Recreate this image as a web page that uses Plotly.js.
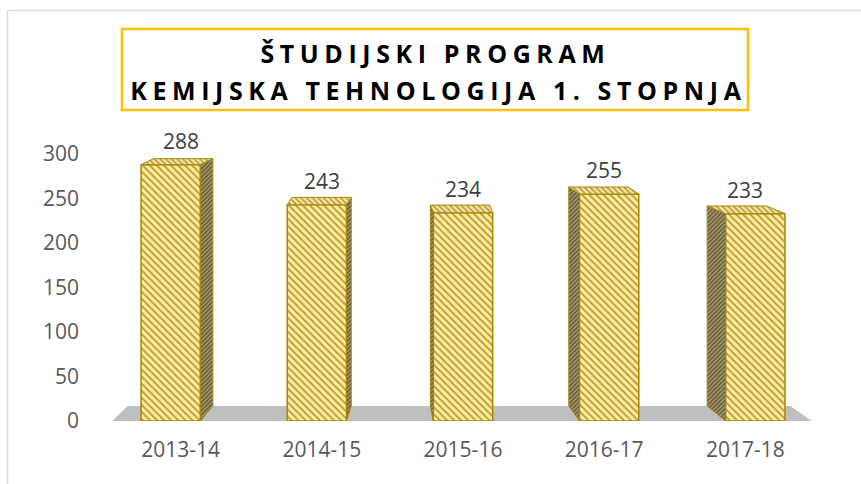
<!DOCTYPE html>
<html>
<head>
<meta charset="utf-8">
<script src="https://cdn.plot.ly/plotly-3.0.1.min.js"></script>
<style>
  html, body { margin: 0; padding: 0; background: #ffffff; }
  #chart { width: 861px; height: 484px; }
  g.annotation[data-index="0"] text, g.annotation[data-index="1"] text { letter-spacing: 5.6px; }
</style>
</head>
<body>
<div id="chart"></div>
<script>
// ---- data ----
const categories = ["2013-14", "2014-15", "2015-16", "2016-17", "2017-18"];
const values = [288, 243, 234, 255, 233];
const titleLines = ["ŠTUDIJSKI PROGRAM", "KEMIJSKA TEHNOLOGIJA 1. STOPNJA"];
const yTicks = [0, 50, 100, 150, 200, 250, 300];

// ---- layout geometry ----
const W = 861, H = 484;
const M = { l: 110, r: 45, t: 154, b: 63 };
const PW = W - M.l - M.r, PH = H - M.t - M.b;
const px2paperX = p => (p - M.l) / PW;
const px2paperY = p => (H - M.b - p) / PH;

const idx = categories.map((c, i) => i);
const barW = 0.42;
// simple perspective: faces recede toward a vanishing point
const VX = 1.6, AX = 0.053, VY = 480, BY = 0.035, SHIFT = 0.035;
const offsets = idx.map(i => -barW / 2 + SHIFT * (i - 2));

const sideX = [], sideY = [], topX = [], topY = [];
idx.forEach(i => {
  const xl = i + offsets[i], xr = xl + barW, v = values[i];
  const c = (xl + xr) / 2;
  const dx = AX * (VX - c);
  const dv0 = BY * (VY - 0), dvT = BY * (VY - v);
  const e = dx >= 0 ? xr : xl;
  sideX.push(e, e, e + dx, e + dx, e, null);
  sideY.push(0, v, v + dvT, dv0, 0, null);
  topX.push(xl, xr, xr + dx, xl + dx, xl, null);
  topY.push(v, v, v + dvT, v + dvT, v, null);
});

const goldLine = '#A8860C';
const traces = [
  {
    type: 'bar', x: idx, y: values, width: barW, offset: offsets,
    marker: {
      color: '#FFEE9E',
      line: { color: goldLine, width: 1.5 },
      pattern: { shape: '\\', fgcolor: '#BC9A36', bgcolor: '#FFEE9E', size: 5, solidity: 0.35, fillmode: 'replace' }
    },
    hoverinfo: 'skip'
  },
  {
    type: 'scatter', mode: 'lines', x: sideX, y: sideY, fill: 'toself',
    fillcolor: '#8E7E50',
    fillpattern: { shape: '/', fgcolor: '#5E5330', bgcolor: '#A89A6C', size: 3, solidity: 0.45, fillmode: 'replace' },
    line: { color: goldLine, width: 1 }, hoverinfo: 'skip', cliponaxis: false
  },
  {
    type: 'scatter', mode: 'lines', x: topX, y: topY, fill: 'toself',
    fillcolor: '#F0DE90',
    fillpattern: { shape: '\\', fgcolor: '#B89A40', bgcolor: '#F6E7A2', size: 4, solidity: 0.4, fillmode: 'replace' },
    line: { color: goldLine, width: 1 }, hoverinfo: 'skip', cliponaxis: false
  }
];

// floor
const fl = -0.485, fr = 4.47;
const back = x => x + AX * (VX - x);
const floorDepth = BY * VY;
const floorPath = `M ${fl} 0 L ${fr} 0 L ${back(fr)} ${floorDepth} L ${back(fl)} ${floorDepth} Z`;

const titleFont = { family: 'Open Sans', size: 25, color: '#000000', weight: 700 };
const annotations = [
  { xref: 'paper', yref: 'paper', x: px2paperX(435), y: px2paperY(53), xanchor: 'center', yanchor: 'middle',
    text: titleLines[0], showarrow: false, font: titleFont },
  { xref: 'paper', yref: 'paper', x: px2paperX(438), y: px2paperY(90), xanchor: 'center', yanchor: 'middle',
    text: titleLines[1], showarrow: false, font: titleFont }
].concat(idx.map(i => ({
  x: i, y: values[i], xref: 'x', yref: 'y', yshift: 24, yanchor: 'middle',
  text: String(values[i]), showarrow: false, font: { family: 'Open Sans', size: 21, color: '#404040' }
})));

const shapes = [
  { type: 'path', path: floorPath, xref: 'x', yref: 'y', fillcolor: '#BFBFBF', line: { width: 0 }, layer: 'below' },
  { type: 'rect', xref: 'paper', yref: 'paper', x0: px2paperX(122), x1: px2paperX(748), y0: px2paperY(110), y1: px2paperY(29),
    line: { color: '#FFC000', width: 2.5 }, fillcolor: 'rgba(0,0,0,0)' },
  { type: 'line', xref: 'paper', yref: 'paper', x0: px2paperX(7.5), x1: px2paperX(7.5), y0: px2paperY(10.5), y1: px2paperY(484),
    line: { color: '#D9D9D9', width: 1.5 } },
  { type: 'line', xref: 'paper', yref: 'paper', x0: px2paperX(7.5), x1: px2paperX(861), y0: px2paperY(10.5), y1: px2paperY(10.5),
    line: { color: '#D9D9D9', width: 1.5 } }
];

const layout = {
  width: W, height: H, margin: M,
  paper_bgcolor: '#ffffff', plot_bgcolor: 'rgba(0,0,0,0)',
  showlegend: false, hovermode: false,
  font: { family: 'Open Sans', size: 21, color: '#595959' },
  xaxis: { type: 'linear', range: [-0.5, 4.5], tickvals: idx, ticktext: categories,
    showgrid: false, zeroline: false, showline: false, ticks: '', ticklabelstandoff: 14,
    tickfont: { family: 'Open Sans', size: 21, color: '#595959' }, fixedrange: true },
  yaxis: { range: [0, 300], tickvals: yTicks, showgrid: false, zeroline: false, showline: false, ticks: '',
    ticklabelstandoff: 30, tickfont: { family: 'Open Sans', size: 21, color: '#595959' }, fixedrange: true },
  annotations: annotations,
  shapes: shapes
};

Plotly.newPlot('chart', traces, layout, { displayModeBar: false, staticPlot: true });
</script>
</body>
</html>
